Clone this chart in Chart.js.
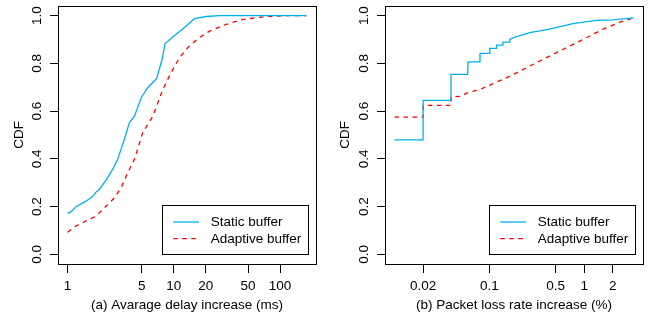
<!DOCTYPE html>
<html><head><meta charset="utf-8">
<script src="https://cdn.jsdelivr.net/npm/chart.js@4"></script>
<style>
html,body{margin:0;padding:0;background:#fff;width:657px;height:320px;overflow:hidden}
canvas{position:absolute;top:0}
#c1{left:0}
#c2{left:330px}
</style></head><body>
<canvas id="c1" width="330" height="320"></canvas>
<canvas id="c2" width="327" height="320"></canvas>
<script>
// ---- data: (a) average delay increase (ms) ----
const delayStaticX = [1, 1.08, 1.2, 1.49, 1.72, 1.85, 1.99, 2.3, 2.66, 2.96, 3.43, 3.82, 4.26, 4.93, 5.68, 6.9, 7.76, 8.28, 10.1, 12.6, 15.6, 20.2, 26.9, 177];
const delayStaticY = [0.172, 0.179, 0.2, 0.223, 0.242, 0.261, 0.272, 0.311, 0.356, 0.398, 0.482, 0.552, 0.579, 0.656, 0.698, 0.737, 0.817, 0.883, 0.915, 0.95, 0.987, 0.996, 1.0, 1.0];
const delayAdaptiveX = [1, 1.2, 1.49, 1.85, 2.3, 2.76, 3.19, 3.68, 4.26, 5.1, 6.35, 7.88, 9.44, 11.3, 14.0, 17.5, 21.7, 31.1, 44.7, 74.5, 123, 177];
const delayAdaptiveY = [0.093, 0.119, 0.14, 0.16, 0.202, 0.237, 0.279, 0.342, 0.398, 0.51, 0.579, 0.691, 0.761, 0.824, 0.873, 0.908, 0.935, 0.963, 0.984, 0.996, 1.0, 1.0];
const delayTicks = [1, 5, 10, 20, 50, 100];
const delayTickLabels = ['1', '5', '10', '20', '50', '100'];

// ---- data: (b) packet loss rate increase (%) ----
const lossStaticX = [0.01, 0.02, 0.02, 0.0394, 0.0394, 0.059, 0.0595, 0.0796, 0.0796, 0.101, 0.101, 0.119, 0.119, 0.139, 0.139, 0.164, 0.164, 0.186, 0.267, 0.43, 0.76, 1.34, 2.0, 3.3];
const lossStaticY = [0.48, 0.48, 0.645, 0.645, 0.754, 0.754, 0.806, 0.806, 0.842, 0.842, 0.863, 0.863, 0.876, 0.876, 0.889, 0.889, 0.9, 0.91, 0.929, 0.943, 0.966, 0.98, 0.982, 0.99];
const lossAdaptiveX = [0.01, 0.02, 0.02, 0.0394, 0.0394, 0.05, 0.059, 0.08, 0.1, 0.152, 0.228, 0.37, 0.6, 0.98, 1.58, 2.34, 3.3];
const lossAdaptiveY = [0.575, 0.575, 0.624, 0.624, 0.659, 0.662, 0.677, 0.691, 0.708, 0.74, 0.775, 0.817, 0.859, 0.901, 0.943, 0.971, 0.99];
const lossTicks = [0.02, 0.1, 0.5, 1, 2];
const lossTickLabels = ['0.02', '0.1', '0.5', '1', '2'];

const cdfTicks = [0, 0.2, 0.4, 0.6, 0.8, 1.0];
const cdfTickLabels = ['0.0', '0.2', '0.4', '0.6', '0.8', '1.0'];
const seriesNames = ['Static buffer', 'Adaptive buffer'];

const FONT = "'Liberation Sans', Arial, Helvetica, sans-serif";
const FS = 13.5;
const BLUE = '#00B0F0';
const RED = '#FF0000';

function pts(xs, ys) { return xs.map((x, i) => ({ x: x, y: ys[i] })); }

const framePlugin = {
  id: 'frame',
  afterDraw(chart, args, opts) {
    const ctx = chart.ctx, a = chart.chartArea;
    ctx.save();
    ctx.strokeStyle = '#000';
    ctx.lineWidth = 1;
    ctx.setLineDash([]);
    ctx.strokeRect(Math.round(a.left) + 0.5, Math.round(a.top) + 0.5,
      Math.round(a.right - a.left), Math.round(a.bottom - a.top));
    // rotated y tick labels (R style)
    const ys = chart.scales.y;
    ctx.fillStyle = '#000';
    ctx.font = FS + 'px ' + FONT;
    ctx.textAlign = 'center';
    ctx.textBaseline = 'middle';
    ys.ticks.forEach((t, i) => {
      const py = ys.getPixelForValue(t.value);
      ctx.save();
      ctx.translate(a.left - opts.labelOffset, py);
      ctx.rotate(-Math.PI / 2);
      ctx.fillText(cdfTickLabels[i], 0, 0);
      ctx.restore();
    });
    // legend box
    const w = 145.6, h = 49;
    const bx = a.right - 8.7 - w, by = a.bottom - 9.6 - h;
    ctx.strokeRect(Math.round(bx) + 0.5, Math.round(by) + 0.5, Math.round(w), Math.round(h));
    ctx.textAlign = 'left';
    chart.data.datasets.forEach((ds, i) => {
      const ly = by + 16.6 + i * 16.7;
      ctx.beginPath();
      ctx.setLineDash(ds.borderDash || []);
      ctx.strokeStyle = ds.borderColor;
      ctx.lineWidth = ds.borderWidth;
      ctx.moveTo(bx + 11.6, ly);
      ctx.lineTo(bx + 37.3, ly);
      ctx.stroke();
      ctx.setLineDash([]);
      ctx.fillStyle = '#000';
      ctx.fillText(ds.label, bx + 49, ly + 0.5);
    });
    ctx.restore();
  }
};

function makeChart(id, cfg) {
  return new Chart(document.getElementById(id), {
    type: 'scatter',
    data: {
      datasets: [
        { label: seriesNames[0], data: pts(cfg.sx, cfg.sy), showLine: true, borderColor: BLUE,
          backgroundColor: BLUE, borderWidth: 1.3, pointRadius: 0, fill: false, tension: 0 },
        { label: seriesNames[1], data: pts(cfg.ax, cfg.ay), showLine: true, borderColor: RED,
          backgroundColor: RED, borderWidth: 1.3, borderDash: [4.5, 4.5], pointRadius: 0, fill: false, tension: 0 }
      ]
    },
    options: {
      responsive: false,
      animation: false,
      events: [],
      layout: { padding: { left: 0, right: cfg.padRight, top: 6, bottom: 0 } },
      plugins: {
        legend: { display: false },
        tooltip: { enabled: false },
        frame: { labelOffset: cfg.labelOffset }
      },
      scales: {
        x: {
          type: 'logarithmic', position: 'bottom', bounds: 'data',
          min: cfg.xmin, max: cfg.xmax,
          afterBuildTicks: (s) => { s.ticks = cfg.xticks.map(v => ({ value: v })); },
          afterFit: (s) => { s.height = 56; },
          ticks: { callback: (v, i) => cfg.xlabels[i], color: '#000',
            font: { family: FONT, size: FS, lineHeight: 1.2 }, padding: 5.6,
            maxRotation: 0, minRotation: 0, autoSkip: false },
          grid: { display: true, drawOnChartArea: false, drawTicks: true, tickLength: 9, color: '#000', lineWidth: 1 },
          border: { display: false },
          title: { display: true, text: cfg.xtitle, color: '#000',
            font: { family: FONT, size: FS, lineHeight: 1.2 }, padding: { top: 0, bottom: 6.2 } }
        },
        y: {
          type: 'linear', position: 'left', bounds: 'data', min: -0.04, max: 1.04,
          afterBuildTicks: (s) => { s.ticks = cdfTicks.map(v => ({ value: v })); },
          afterFit: (s) => { s.width = cfg.left; },
          ticks: { display: false },
          grid: { display: true, drawOnChartArea: false, drawTicks: true, tickLength: 8, color: '#000', lineWidth: 1 },
          border: { display: false },
          title: { display: true, text: 'CDF', color: '#000',
            font: { family: FONT, size: FS, lineHeight: 1.2 }, padding: { top: cfg.titlePad, bottom: 0 } }
        }
      }
    },
    plugins: [framePlugin]
  });
}

makeChart('c1', {
  sx: delayStaticX, sy: delayStaticY, ax: delayAdaptiveX, ay: delayAdaptiveY,
  xticks: delayTicks, xlabels: delayTickLabels, xmin: 0.813, xmax: 217.8,
  xtitle: '(a) Avarage delay increase (ms)',
  left: 58, padRight: 14, titlePad: 10.9, labelOffset: 20.5
});
makeChart('c2', {
  sx: lossStaticX, sy: lossStaticY, ax: lossAdaptiveX, ay: lossAdaptiveY,
  xticks: lossTicks, xlabels: lossTickLabels, xmin: 0.00793, xmax: 4.165,
  xtitle: '(b) Packet loss rate increase (%)',
  left: 55, padRight: 14, titlePad: 6.9, labelOffset: 20.5
});
</script>
</body></html>
